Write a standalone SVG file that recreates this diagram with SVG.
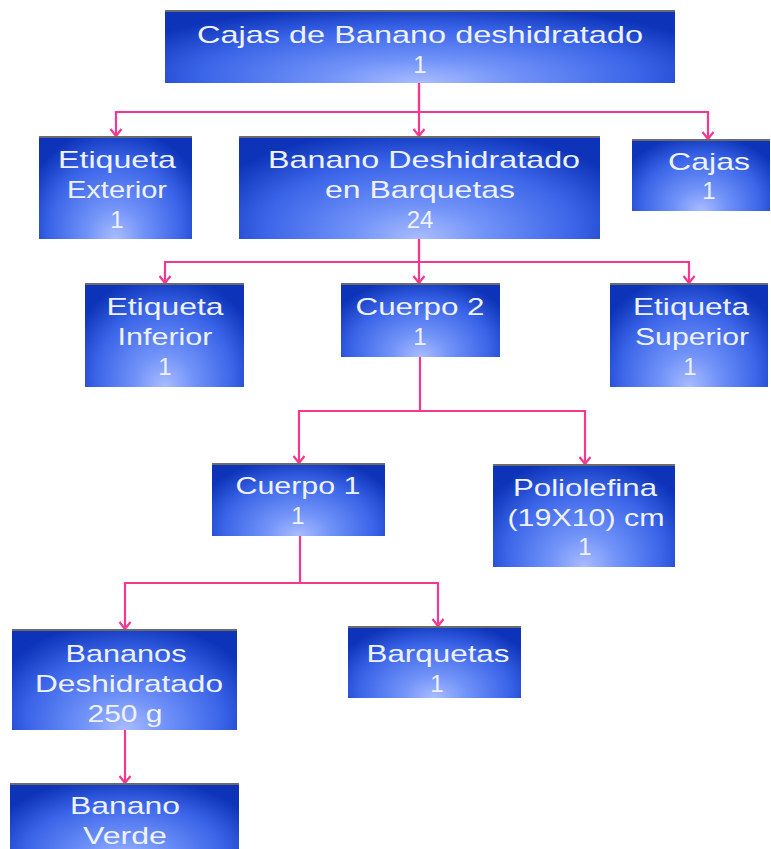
<svg xmlns="http://www.w3.org/2000/svg" width="771" height="849" viewBox="0 0 771 849">
<defs>
  <radialGradient id="boxg" cx="0.5" cy="0.85" r="0.62" fx="0.5" fy="0.95" gradientTransform="translate(0.5 0.85) scale(1 1.5) translate(-0.5 -0.85)">
    <stop offset="0" stop-color="#a9bcff"/>
    <stop offset="0.3" stop-color="#7092f8"/>
    <stop offset="0.7" stop-color="#3a64e8"/>
    <stop offset="1" stop-color="#0c33b8"/>
  </radialGradient>
  <marker id="arr" markerUnits="userSpaceOnUse" markerWidth="14" markerHeight="14" refX="11" refY="7" orient="auto" viewBox="0 0 14 14">
    <path d="M4,1.5 L11,7 L4,12.5" fill="none" stroke="#f5388f" stroke-width="2.2"/>
  </marker>
</defs>
<style>
  .box { fill: url(#boxg); }
  .topline { stroke: #6b6b6b; stroke-width: 2; }
  .t { font-family: "Century Gothic", "Liberation Sans", sans-serif; font-size: 24px; fill: #eef2ff; text-anchor: middle; }
  .ca { fill: none; stroke: #f5388f; stroke-width: 2.2; marker-end: url(#arr); }
</style>
<rect width="771" height="849" fill="#ffffff"/>

<g id="connectors">
  <path class="ca" d="M419,83 V112 H116 V136"/>
  <path class="ca" d="M419,83 V136"/>
  <path class="ca" d="M419,112 H708 V139"/>
  <path class="ca" d="M419,239 V262 H165 V283"/>
  <path class="ca" d="M419,239 V283"/>
  <path class="ca" d="M419,262 H689 V283"/>
  <path class="ca" d="M420,357 V411 H299 V463"/>
  <path class="ca" d="M420,411 H585 V464"/>
  <path class="ca" d="M300,536 V583 H125 V629"/>
  <path class="ca" d="M300,583 H438 V626"/>
  <path class="ca" d="M125,730 V783"/>
</g>

<g id="n_top">
  <rect class="box" x="165" y="10" width="510" height="73"/>
  <line class="topline" x1="165" y1="11" x2="675" y2="11"/>
  <text class="t" x="420" y="43" textLength="446" lengthAdjust="spacingAndGlyphs">Cajas de Banano deshidratado</text>
  <text class="t" x="420" y="73">1</text>
</g>

<g id="n_etiq_ext">
  <rect class="box" x="39" y="136" width="153" height="103"/>
  <line class="topline" x1="39" y1="137" x2="192" y2="137"/>
  <text class="t" x="117" y="168" textLength="118" lengthAdjust="spacingAndGlyphs">Etiqueta</text>
  <text class="t" x="117" y="198" textLength="100" lengthAdjust="spacingAndGlyphs">Exterior</text>
  <text class="t" x="117" y="228">1</text>
</g>

<g id="n_banano_barq">
  <rect class="box" x="239" y="136" width="361" height="103"/>
  <line class="topline" x1="239" y1="137" x2="600" y2="137"/>
  <text class="t" x="424" y="168" textLength="312" lengthAdjust="spacingAndGlyphs">Banano Deshidratado</text>
  <text class="t" x="420" y="198" textLength="190" lengthAdjust="spacingAndGlyphs">en Barquetas</text>
  <text class="t" x="420" y="228">24</text>
</g>

<g id="n_cajas">
  <rect class="box" x="632" y="139" width="138" height="72"/>
  <line class="topline" x1="632" y1="140" x2="770" y2="140"/>
  <text class="t" x="709" y="170" textLength="82" lengthAdjust="spacingAndGlyphs">Cajas</text>
  <text class="t" x="709" y="199">1</text>
</g>

<g id="n_etiq_inf">
  <rect class="box" x="85" y="283" width="159" height="104"/>
  <line class="topline" x1="85" y1="284" x2="244" y2="284"/>
  <text class="t" x="165" y="315" textLength="117" lengthAdjust="spacingAndGlyphs">Etiqueta</text>
  <text class="t" x="165" y="345" textLength="95" lengthAdjust="spacingAndGlyphs">Inferior</text>
  <text class="t" x="165" y="375">1</text>
</g>

<g id="n_cuerpo2">
  <rect class="box" x="341" y="283" width="159" height="74"/>
  <line class="topline" x1="341" y1="284" x2="500" y2="284"/>
  <text class="t" x="420" y="315" textLength="129" lengthAdjust="spacingAndGlyphs">Cuerpo 2</text>
  <text class="t" x="420" y="345">1</text>
</g>

<g id="n_etiq_sup">
  <rect class="box" x="610" y="283" width="158" height="104"/>
  <line class="topline" x1="610" y1="284" x2="768" y2="284"/>
  <text class="t" x="691" y="315" textLength="116" lengthAdjust="spacingAndGlyphs">Etiqueta</text>
  <text class="t" x="692" y="345" textLength="114" lengthAdjust="spacingAndGlyphs">Superior</text>
  <text class="t" x="690" y="375">1</text>
</g>

<g id="n_cuerpo1">
  <rect class="box" x="212" y="463" width="173" height="73"/>
  <line class="topline" x1="212" y1="464" x2="385" y2="464"/>
  <text class="t" x="298" y="494" textLength="125" lengthAdjust="spacingAndGlyphs">Cuerpo 1</text>
  <text class="t" x="298" y="524">1</text>
</g>

<g id="n_poliolefina">
  <rect class="box" x="493" y="464" width="182" height="103"/>
  <line class="topline" x1="493" y1="465" x2="675" y2="465"/>
  <text class="t" x="585" y="496" textLength="144" lengthAdjust="spacingAndGlyphs">Poliolefina</text>
  <text class="t" x="586" y="526" textLength="157" lengthAdjust="spacingAndGlyphs">(19X10) cm</text>
  <text class="t" x="585" y="555">1</text>
</g>

<g id="n_bananos">
  <rect class="box" x="12" y="629" width="225" height="101"/>
  <line class="topline" x1="12" y1="630" x2="237" y2="630"/>
  <text class="t" x="126" y="662" textLength="121" lengthAdjust="spacingAndGlyphs">Bananos</text>
  <text class="t" x="129" y="692" textLength="188" lengthAdjust="spacingAndGlyphs">Deshidratado</text>
  <text class="t" x="125" y="722" textLength="75" lengthAdjust="spacingAndGlyphs">250 g</text>
</g>

<g id="n_barquetas">
  <rect class="box" x="348" y="626" width="173" height="72"/>
  <line class="topline" x1="348" y1="627" x2="521" y2="627"/>
  <text class="t" x="438" y="662" textLength="143" lengthAdjust="spacingAndGlyphs">Barquetas</text>
  <text class="t" x="437" y="692">1</text>
</g>

<g id="n_verde">
  <rect class="box" x="10" y="783" width="229" height="80"/>
  <line class="topline" x1="10" y1="784" x2="239" y2="784"/>
  <text class="t" x="125" y="814" textLength="110" lengthAdjust="spacingAndGlyphs">Banano</text>
  <text class="t" x="125" y="844" textLength="84" lengthAdjust="spacingAndGlyphs">Verde</text>
</g>
</svg>
